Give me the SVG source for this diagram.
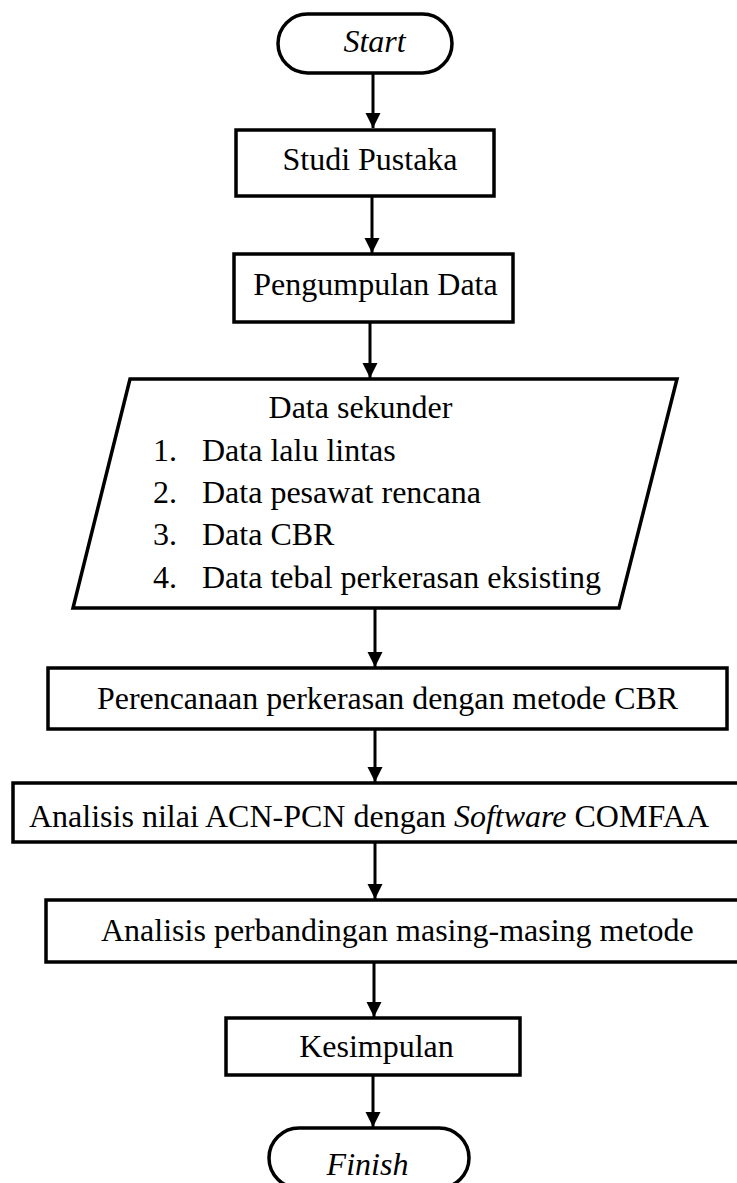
<svg xmlns="http://www.w3.org/2000/svg" width="737" height="1183" viewBox="0 0 737 1183">
  <style>
    .shape { fill: #ffffff; stroke: #000000; stroke-width: 3.5; }
    .conn { stroke: #000000; stroke-width: 3; fill: none; }
    text { font-family: "Liberation Serif", "Times New Roman", serif; font-size: 32px; fill: #000000; }
    .it { font-style: italic; }
    .mid { text-anchor: middle; }
  </style>
  <defs>
    <marker id="arrow" markerUnits="userSpaceOnUse" markerWidth="16" markerHeight="16" refX="15" refY="8" orient="auto">
      <path d="M0,0.5 L15,8 L0,15.5 Z" fill="#000000"/>
    </marker>
  </defs>
  <rect width="737" height="1183" fill="#ffffff"/>

  <g id="connectors">
    <line class="conn" x1="373" y1="73" x2="373" y2="128" marker-end="url(#arrow)"/>
    <line class="conn" x1="372" y1="196" x2="372" y2="253" marker-end="url(#arrow)"/>
    <line class="conn" x1="370" y1="322" x2="370" y2="378" marker-end="url(#arrow)"/>
    <line class="conn" x1="375" y1="608" x2="375" y2="667" marker-end="url(#arrow)"/>
    <line class="conn" x1="375" y1="729" x2="375" y2="782" marker-end="url(#arrow)"/>
    <line class="conn" x1="375" y1="842" x2="375" y2="899" marker-end="url(#arrow)"/>
    <line class="conn" x1="374" y1="962" x2="374" y2="1017" marker-end="url(#arrow)"/>
    <line class="conn" x1="373" y1="1075" x2="373" y2="1127" marker-end="url(#arrow)"/>
  </g>

  <g id="start">
    <rect class="shape" x="278" y="14" width="174" height="59" rx="29.5" ry="29.5"/>
    <text class="it mid" x="374.5" y="52">Start</text>
  </g>

  <g id="studi-pustaka">
    <rect class="shape" x="236" y="130" width="258" height="66"/>
    <text class="mid" x="370" y="170">Studi Pustaka</text>
  </g>

  <g id="pengumpulan-data">
    <rect class="shape" x="234" y="254" width="279" height="68"/>
    <text class="mid" x="375.5" y="295">Pengumpulan Data</text>
  </g>

  <g id="data-sekunder">
    <polygon class="shape" points="130,379 677,379 619,608 73,608"/>
    <text class="mid" x="360.5" y="418">Data sekunder</text>
    <text x="153" y="461">1.</text>
    <text x="202" y="461">Data lalu lintas</text>
    <text x="153" y="503">2.</text>
    <text x="202" y="503">Data pesawat rencana</text>
    <text x="153" y="545">3.</text>
    <text x="202" y="545">Data CBR</text>
    <text x="153" y="588">4.</text>
    <text x="202" y="588">Data tebal perkerasan eksisting</text>
  </g>

  <g id="perencanaan">
    <rect class="shape" x="48" y="668" width="679" height="61"/>
    <text x="97" y="709" textLength="581" lengthAdjust="spacingAndGlyphs">Perencanaan perkerasan dengan metode CBR</text>
  </g>

  <g id="analisis-acn-pcn">
    <rect class="shape" x="13" y="783" width="740" height="59"/>
    <text x="29" y="827">Analisis nilai ACN-PCN dengan <tspan class="it">Software</tspan> COMFAA</text>
  </g>

  <g id="analisis-perbandingan">
    <rect class="shape" x="46" y="900" width="707" height="62"/>
    <text x="101" y="941">Analisis perbandingan masing-masing metode</text>
  </g>

  <g id="kesimpulan">
    <rect class="shape" x="226" y="1018" width="294" height="57"/>
    <text class="mid" x="376.5" y="1057">Kesimpulan</text>
  </g>

  <g id="finish">
    <rect class="shape" x="269" y="1128" width="200" height="60" rx="30" ry="30"/>
    <text class="it mid" x="367.5" y="1175">Finish</text>
  </g>
</svg>
